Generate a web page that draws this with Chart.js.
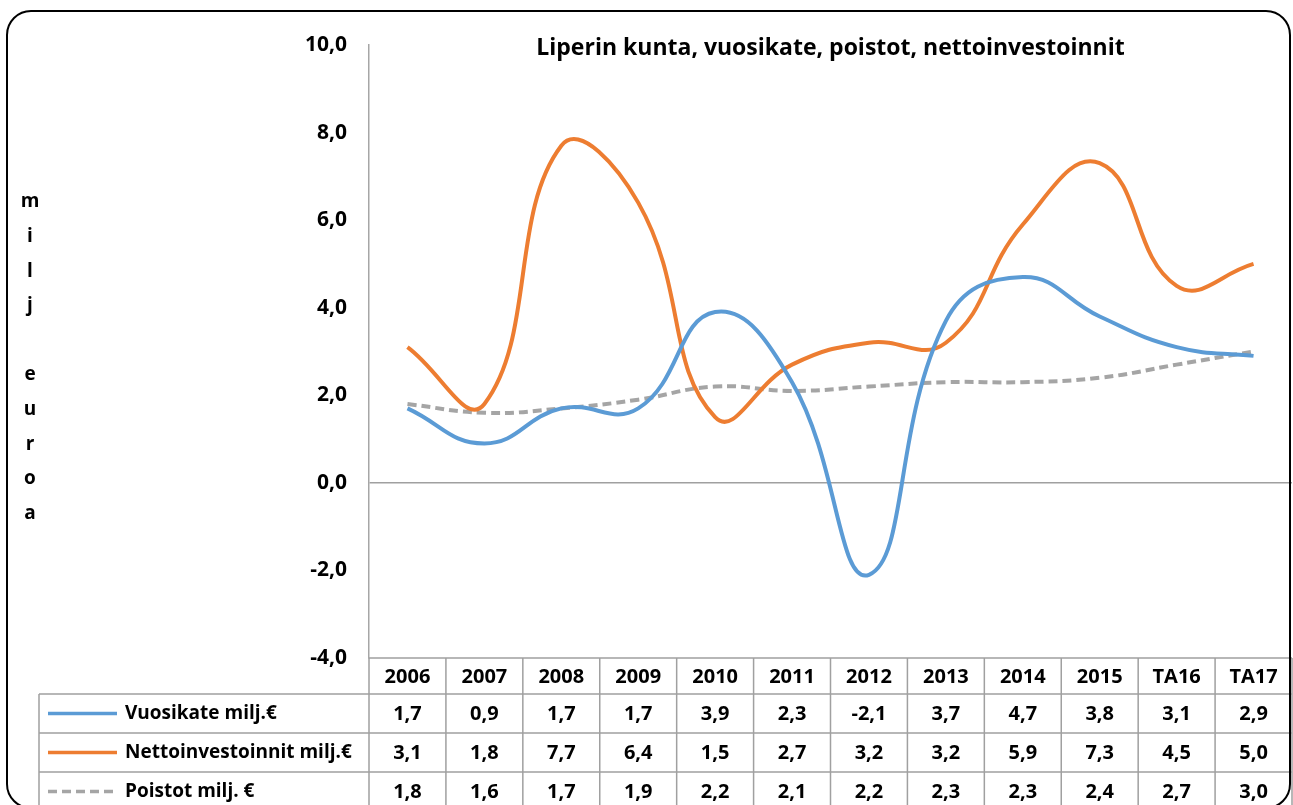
<!DOCTYPE html>
<html>
<head>
<meta charset="utf-8">
<script src="https://cdn.jsdelivr.net/npm/chart.js@4"></script>
<style>
  body { margin: 0; background: #fff; }
  #wrap { position: relative; width: 1293px; height: 805px; }
</style>
</head>
<body>
<div id="wrap"><canvas id="chart"></canvas></div>
<script>
// Data
const categories = ['2006', '2007', '2008', '2009', '2010', '2011', '2012', '2013', '2014', '2015', 'TA16', 'TA17'];
const vuosikate = [1.7, 0.9, 1.7, 1.7, 3.9, 2.3, -2.1, 3.7, 4.7, 3.8, 3.1, 2.9];
const nettoinvestoinnit = [3.1, 1.8, 7.7, 6.4, 1.5, 2.7, 3.2, 3.2, 5.9, 7.3, 4.5, 5.0];
const poistot = [1.8, 1.6, 1.7, 1.9, 2.2, 2.1, 2.2, 2.3, 2.3, 2.4, 2.7, 3.0];
const seriesNames = ['Vuosikate milj.€', 'Nettoinvestoinnit milj.€', 'Poistot milj. €'];
const yTicks = [-4, -2, 0, 2, 4, 6, 8, 10];
const titleText = 'Liperin kunta, vuosikate, poistot, nettoinvestoinnit';
const yTitleLines = ['m', 'i', 'l', 'j', '', 'e', 'u', 'r', 'o', 'a'];

const FONT = '"Open Sans", "DejaVu Sans", sans-serif';
const fmt = v => v.toFixed(1).replace('.', ',');

// Title, vertical axis label, data table and frame
const decorPlugin = {
    id: 'decor',
    afterDraw(chart) {
        const { ctx, chartArea: a } = chart;
        const x = chart.scales.x;
        const n = categories.length;
        const colW = (a.right - a.left) / n;
        const headH = 36, rowH = 39, legendLeft = 39;

        ctx.save();
        ctx.fillStyle = '#000';
        ctx.textBaseline = 'middle';

        // title
        ctx.font = 'bold 23px ' + FONT;
        ctx.textAlign = 'center';
        ctx.fillText(titleText, (a.left + a.right) / 2, a.top + 3);

        // vertical y label
        ctx.font = 'bold 19px ' + FONT;
        yTitleLines.forEach((ch, i) => ctx.fillText(ch, 30, 202 + i * 34.6));

        // table grid
        ctx.strokeStyle = '#a0a0a0';
        ctx.lineWidth = 1.5;
        const bottom = 830;
        ctx.beginPath();
        ctx.moveTo(a.left, a.bottom); ctx.lineTo(a.right, a.bottom);
        for (let r = 0; r < 3; r++) {
            const y = a.bottom + headH + r * rowH;
            ctx.moveTo(legendLeft, y); ctx.lineTo(a.right, y);
        }
        ctx.moveTo(legendLeft, a.bottom + headH); ctx.lineTo(legendLeft, bottom);
        for (let i = 0; i <= n; i++) {
            const xi = a.left + i * colW;
            ctx.moveTo(xi, a.bottom); ctx.lineTo(xi, bottom);
        }
        ctx.stroke();

        // header row
        ctx.font = 'bold 20px ' + FONT;
        ctx.textAlign = 'center';
        categories.forEach((c, i) => ctx.fillText(c, x.getPixelForValue(i), a.bottom + headH / 2 + 1));

        // series rows
        chart.data.datasets.forEach((ds, r) => {
            const yc = a.bottom + headH + r * rowH + rowH / 2;
            ctx.save();
            ctx.strokeStyle = ds.borderColor;
            ctx.lineWidth = 3.5;
            ctx.setLineDash(ds.borderDash || []);
            ctx.beginPath();
            ctx.moveTo(48, yc); ctx.lineTo(117, yc);
            ctx.stroke();
            ctx.restore();

            ctx.font = 'bold 19px ' + FONT;
            ctx.textAlign = 'left';
            ctx.fillText(ds.label, 125, yc);
            ctx.font = 'bold 20px ' + FONT;
            ctx.textAlign = 'center';
            ds.data.forEach((v, i) => ctx.fillText(fmt(v), x.getPixelForValue(i), yc + 1));
        });

        // rounded frame
        ctx.strokeStyle = '#000';
        ctx.lineWidth = 2;
        ctx.beginPath();
        ctx.roundRect(7, 11, 1283, 797, 24);
        ctx.stroke();

        ctx.restore();
    }
};

const ctx = document.getElementById('chart').getContext('2d');
new Chart(ctx, {
    type: 'line',
    data: {
        labels: categories,
        datasets: [{
            label: seriesNames[0],
            data: vuosikate,
            borderColor: '#5b9bd5',
            borderWidth: 4
        }, {
            label: seriesNames[1],
            data: nettoinvestoinnit,
            borderColor: '#ed7d31',
            borderWidth: 4
        }, {
            label: seriesNames[2],
            data: poistot,
            borderColor: '#a5a5a5',
            borderWidth: 4,
            borderDash: [9, 5]
        }]
    },
    options: {
        responsive: true,
        maintainAspectRatio: false,
        animation: false,
        layout: { padding: { left: 0, top: 45, right: 1, bottom: 147 } },
        elements: {
            point: { radius: 0, hoverRadius: 0 },
            line: { tension: 0.45, fill: false, borderCapStyle: 'butt' }
        },
        plugins: {
            legend: { display: false },
            title: { display: false },
            tooltip: { enabled: false }
        },
        scales: {
            x: {
                offset: true,
                grid: { display: false },
                border: { display: false },
                ticks: { display: false },
                afterFit: s => { s.height = 0; }
            },
            y: {
                min: -4,
                max: 10,
                afterBuildTicks: s => { s.ticks = yTicks.map(v => ({ value: v })); },
                afterFit: s => { s.width = 369; },
                border: { display: true, color: '#a6a6a6', width: 1.5 },
                grid: {
                    drawTicks: false,
                    lineWidth: 1.5,
                    color: c => c.tick && c.tick.value === 0 ? '#a0a0a0' : 'rgba(0,0,0,0)'
                },
                ticks: {
                    padding: 22,
                    color: '#000',
                    font: { family: FONT, size: 21, weight: 'bold' },
                    callback: v => fmt(v)
                }
            }
        }
    },
    plugins: [decorPlugin]
});
</script>
</body>
</html>
